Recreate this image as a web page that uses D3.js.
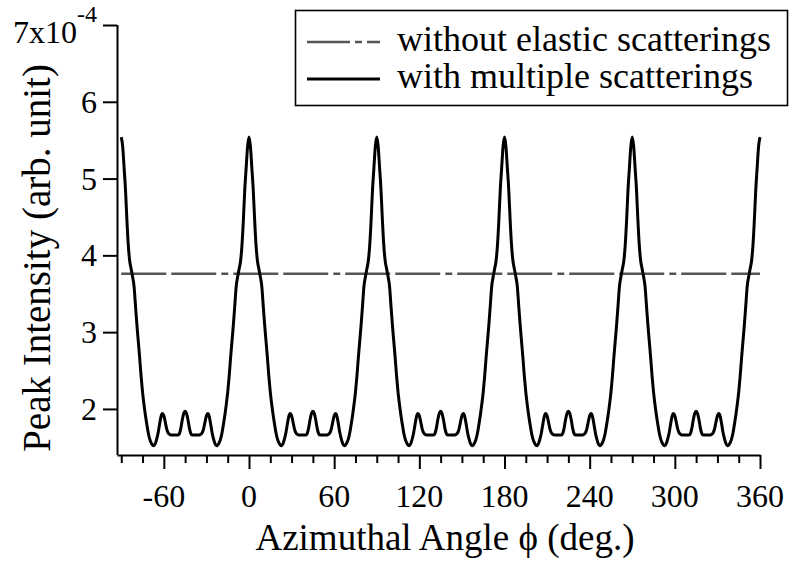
<!DOCTYPE html>
<html>
<head>
<meta charset="utf-8">
<script src="https://cdn.jsdelivr.net/npm/d3@7"></script>
<style>
  body { margin: 0; background: #fff; }
  svg { display: block; }
</style>
</head>
<body>
<svg id="chart" width="790" height="561"></svg>
<script>
// Azimuthal angle grid (deg.), one sample per degree from -90 to 360
const angleStart = -90;
const angleStep = 1;

// Peak intensity with multiple scatterings, in units of 1e-4 (arb. unit)
const withMultiple = [
  // -90 .. -1
  5.54,5.42,5.14,4.85,4.45,4.12,3.92,3.82,3.72,3.60,3.35,3.10,2.88,2.66,2.42,2.22,2.06,1.92,1.80,1.69,
  1.61,1.56,1.53,1.52,1.55,1.61,1.69,1.80,1.90,1.94,1.91,1.83,1.74,1.69,1.67,1.66,1.66,1.66,1.66,1.66,
  1.66,1.68,1.75,1.86,1.94,1.97,1.94,1.86,1.75,1.68,1.66,1.66,1.66,1.66,1.66,1.66,1.67,1.69,1.74,1.83,
  1.91,1.94,1.90,1.80,1.69,1.61,1.55,1.52,1.53,1.56,1.61,1.69,1.80,1.92,2.06,2.22,2.42,2.66,2.88,3.10,
  3.35,3.60,3.72,3.82,3.92,4.12,4.45,4.85,5.14,5.42,
  // 0 .. 89
  5.54,5.42,5.14,4.85,4.45,4.12,3.92,3.82,3.72,3.60,3.35,3.10,2.88,2.66,2.42,2.22,2.06,1.92,1.80,1.69,
  1.61,1.56,1.53,1.52,1.55,1.61,1.69,1.80,1.90,1.94,1.91,1.83,1.74,1.69,1.67,1.66,1.66,1.66,1.66,1.66,
  1.66,1.68,1.75,1.86,1.94,1.97,1.94,1.86,1.75,1.68,1.66,1.66,1.66,1.66,1.66,1.66,1.67,1.69,1.74,1.83,
  1.91,1.94,1.90,1.80,1.69,1.61,1.55,1.52,1.53,1.56,1.61,1.69,1.80,1.92,2.06,2.22,2.42,2.66,2.88,3.10,
  3.35,3.60,3.72,3.82,3.92,4.12,4.45,4.85,5.14,5.42,
  // 90 .. 179
  5.54,5.42,5.14,4.85,4.45,4.12,3.92,3.82,3.72,3.60,3.35,3.10,2.88,2.66,2.42,2.22,2.06,1.92,1.80,1.69,
  1.61,1.56,1.53,1.52,1.55,1.61,1.69,1.80,1.90,1.94,1.91,1.83,1.74,1.69,1.67,1.66,1.66,1.66,1.66,1.66,
  1.66,1.68,1.75,1.86,1.94,1.97,1.94,1.86,1.75,1.68,1.66,1.66,1.66,1.66,1.66,1.66,1.67,1.69,1.74,1.83,
  1.91,1.94,1.90,1.80,1.69,1.61,1.55,1.52,1.53,1.56,1.61,1.69,1.80,1.92,2.06,2.22,2.42,2.66,2.88,3.10,
  3.35,3.60,3.72,3.82,3.92,4.12,4.45,4.85,5.14,5.42,
  // 180 .. 269
  5.54,5.42,5.14,4.85,4.45,4.12,3.92,3.82,3.72,3.60,3.35,3.10,2.88,2.66,2.42,2.22,2.06,1.92,1.80,1.69,
  1.61,1.56,1.53,1.52,1.55,1.61,1.69,1.80,1.90,1.94,1.91,1.83,1.74,1.69,1.67,1.66,1.66,1.66,1.66,1.66,
  1.66,1.68,1.75,1.86,1.94,1.97,1.94,1.86,1.75,1.68,1.66,1.66,1.66,1.66,1.66,1.66,1.67,1.69,1.74,1.83,
  1.91,1.94,1.90,1.80,1.69,1.61,1.55,1.52,1.53,1.56,1.61,1.69,1.80,1.92,2.06,2.22,2.42,2.66,2.88,3.10,
  3.35,3.60,3.72,3.82,3.92,4.12,4.45,4.85,5.14,5.42,
  // 270 .. 359
  5.54,5.42,5.14,4.85,4.45,4.12,3.92,3.82,3.72,3.60,3.35,3.10,2.88,2.66,2.42,2.22,2.06,1.92,1.80,1.69,
  1.61,1.56,1.53,1.52,1.55,1.61,1.69,1.80,1.90,1.94,1.91,1.83,1.74,1.69,1.67,1.66,1.66,1.66,1.66,1.66,
  1.66,1.68,1.75,1.86,1.94,1.97,1.94,1.86,1.75,1.68,1.66,1.66,1.66,1.66,1.66,1.66,1.67,1.69,1.74,1.83,
  1.91,1.94,1.90,1.80,1.69,1.61,1.55,1.52,1.53,1.56,1.61,1.69,1.80,1.92,2.06,2.22,2.42,2.66,2.88,3.10,
  3.35,3.60,3.72,3.82,3.92,4.12,4.45,4.85,5.14,5.42,
  // 360
  5.54
];

// Peak intensity without elastic scatterings (isotropic level), units of 1e-4
const withoutElasticPhi = [-90, 360];
const withoutElastic = [3.76, 3.76];

// Axis ticks and labels
const yTickValues = [2, 3, 4, 5, 6, 7];
const yTickLabels = ["2", "3", "4", "5", "6", "7x10"];
const yTopExponent = "-4";
const xMajorTicks = [-60, 0, 60, 120, 180, 240, 300, 360];
const xMinorTicks = [-90, -75, -45, -30, -15, 15, 30, 45, 75, 90, 105, 135, 150, 165,
                     195, 210, 225, 255, 270, 285, 315, 330, 345];
const xTickLabels = ["-60", "0", "60", "120", "180", "240", "300", "360"];

const seriesNames = ["without elastic scatterings", "with multiple scatterings"];
const xTitle = "Azimuthal Angle \u03D5 (deg.)";
const yTitle = "Peak Intensity (arb. unit)";

const FONT_FAMILY = "Liberation Serif";
const TICK_FONT = 32;
const X_TITLE_FONT = 37;
const Y_TITLE_FONT = 39;
const LEGEND_FONT = 36;

const svg = d3.select("#chart").attr("font-family", FONT_FAMILY);

const x = d3.scaleLinear().domain([-93, 360]).range([117, 760]);
const y = d3.scaleLinear().domain([1.4, 7]).range([455, 25]);

const curveData = withMultiple.map((v, i) => ({ phi: angleStart + i * angleStep, v }));
const flatData = withoutElasticPhi.map((p, i) => ({ phi: p, v: withoutElastic[i] }));

// dash-dash-dot pattern of the isotropic reference line
const dashPattern = "45,5,45,5,7,5";

// isotropic reference line
svg.append("path")
  .datum(flatData)
  .attr("fill", "none")
  .attr("stroke", "#555")
  .attr("stroke-width", 2.6)
  .attr("stroke-dasharray", dashPattern)
  .attr("d", d3.line().x(d => x(d.phi)).y(d => y(d.v)));

// multiple-scattering curve
svg.append("path")
  .datum(curveData)
  .attr("fill", "none")
  .attr("stroke", "#000")
  .attr("stroke-width", 3)
  .attr("stroke-linejoin", "round")
  .attr("d", d3.line().curve(d3.curveMonotoneX).x(d => x(d.phi)).y(d => y(d.v)));

// left axis
const yAxis = svg.append("g")
  .attr("transform", "translate(117,0)")
  .call(d3.axisLeft(y).tickValues(yTickValues).tickSize(14).tickSizeOuter(0).tickFormat(""));
yAxis.select(".domain").attr("stroke-width", 2).attr("d", `M0.5,${y(7)}V${y(1.4)}`);
yAxis.selectAll(".tick line").attr("stroke-width", 2);

// bottom axis: major ticks
const xAxis = svg.append("g")
  .attr("transform", "translate(0,455)")
  .call(d3.axisBottom(x).tickValues(xMajorTicks).tickSize(14).tickSizeOuter(0).tickFormat(""));
xAxis.select(".domain").attr("stroke-width", 2);
xAxis.selectAll(".tick line").attr("stroke-width", 2);

// bottom axis: minor ticks
const xMinor = svg.append("g")
  .attr("transform", "translate(0,455)")
  .call(d3.axisBottom(x).tickValues(xMinorTicks).tickSize(8).tickSizeOuter(0).tickFormat(""));
xMinor.select(".domain").remove();
xMinor.selectAll(".tick line").attr("stroke-width", 2);

function addText(sel, size) {
  return sel.append("text").attr("font-family", FONT_FAMILY).attr("font-size", size).attr("fill", "#000");
}

// y tick labels
yTickValues.forEach((v, i) => {
  if (v === 7) {
    const t = addText(svg, TICK_FONT).attr("x", 97).attr("y", y(v) + 18).attr("text-anchor", "end");
    t.append("tspan").text(yTickLabels[i]);
    t.append("tspan").attr("font-size", 24).attr("dy", -21).text(yTopExponent);
  } else {
    addText(svg, TICK_FONT).attr("x", 97).attr("y", y(v) + 11).attr("text-anchor", "end").text(yTickLabels[i]);
  }
});

// x tick labels
xMajorTicks.forEach((v, i) => {
  addText(svg, TICK_FONT).attr("x", x(v)).attr("y", 507).attr("text-anchor", "middle").text(xTickLabels[i]);
});

// axis titles
addText(svg, X_TITLE_FONT).attr("x", 445).attr("y", 550).attr("text-anchor", "middle").text(xTitle);
addText(svg, Y_TITLE_FONT).attr("transform", "translate(50,258) rotate(-90)").attr("text-anchor", "middle").text(yTitle);

// legend
const legend = svg.append("g");
legend.append("rect")
  .attr("x", 295.5).attr("y", 10.5)
  .attr("width", 492).attr("height", 95)
  .attr("fill", "#fff").attr("stroke", "#000").attr("stroke-width", 1.6);

legend.append("line")
  .attr("x1", 307).attr("x2", 380).attr("y1", 42).attr("y2", 42)
  .attr("stroke", "#555").attr("stroke-width", 2.6)
  .attr("stroke-dasharray", dashPattern).attr("stroke-dashoffset", 52);
legend.append("line")
  .attr("x1", 307).attr("x2", 380).attr("y1", 79).attr("y2", 79)
  .attr("stroke", "#000").attr("stroke-width", 3);

addText(legend, LEGEND_FONT).attr("x", 397).attr("y", 50.5).text(seriesNames[0]);
addText(legend, LEGEND_FONT).attr("x", 397).attr("y", 87.5).text(seriesNames[1]);
</script>
</body>
</html>
